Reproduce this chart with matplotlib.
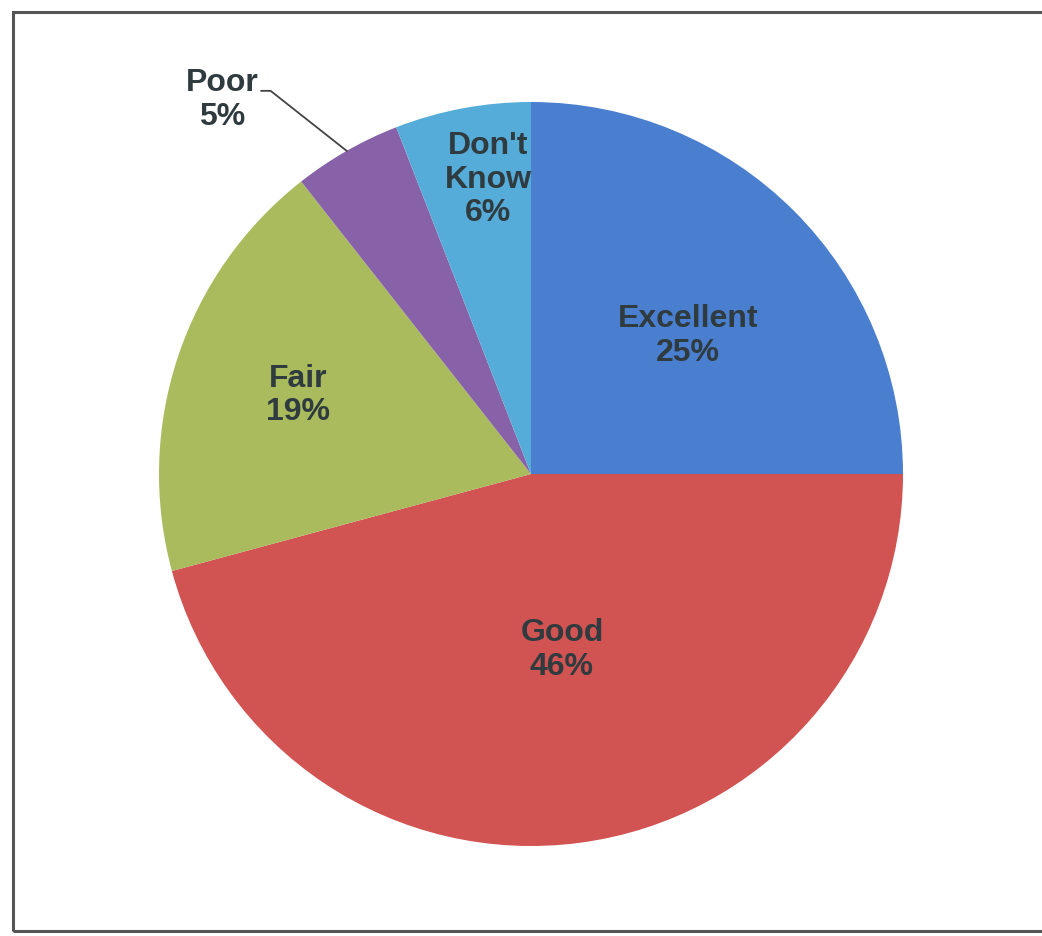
import numpy as np
import matplotlib.pyplot as plt
from matplotlib.patches import Rectangle

# share of answers
categories = ["Excellent", "Good", "Fair", "Poor", "Don't\nKnow"]
shares = [25.0, 45.8, 18.6, 4.7, 5.9]
pct_labels = ["25%", "46%", "19%", "5%", "6%"]
colors = ["#4a7fcf", "#d15352", "#a9bb5c", "#8862a8", "#55acd9"]

text_color = "#2f3b3f"
plt.rcParams['font.family'] = ['Liberation Sans', 'DejaVu Sans']

fig = plt.figure(figsize=(10.42, 9.36), dpi=100)
# pie centre at (531, 474) px, radius 372 px
cx, cy, rad = 531, 474, 372
ax = fig.add_axes([(cx - rad) / 1042, (936 - cy - rad) / 936, 2 * rad / 1042, 2 * rad / 936])

wedges, _ = ax.pie(shares, colors=colors, startangle=90, counterclock=False,
                   radius=1.0, wedgeprops=dict(linewidth=0))
ax.set_xlim(-1, 1)
ax.set_ylim(-1, 1)
ax.set_aspect('equal')
ax.axis('off')

# label distance from centre and angle shift from the slice middle
# (None = outside with a leader line)
label_r = [0.562, 0.480, 0.661, None, 0.799]
label_shift = [-3.7, 2.4, -0.3, 0, -2.3]
for w, cat, pct, r, sh in zip(wedges, categories, pct_labels, label_r, label_shift):
    mid = np.deg2rad((w.theta1 + w.theta2) / 2)
    if r is not None:
        a = mid + np.deg2rad(sh)
        ax.text(r * np.cos(a), r * np.sin(a), cat + "\n" + pct,
                ha='center', va='center', fontsize=23, fontweight='bold',
                color=text_color, linespacing=1.15)
    else:
        ex, ey = np.cos(mid), np.sin(mid)
        ax.plot([ex, -0.70, -0.725], [ey, 1.03, 1.03], color="#444444",
                lw=1.3, clip_on=False)
        ax.text(-0.831, 1.005, cat + "\n" + pct, ha='center', va='center',
                fontsize=23, fontweight='bold', color=text_color,
                linespacing=1.15, clip_on=False)

# scanned chart border (right edge is cut off)
fig.patches.append(Rectangle((13 / 1042, 5 / 936), 1.1, (924 - 5) / 936,
                             transform=fig.transFigure, fill=False,
                             edgecolor="#555555", linewidth=2.2))

fig.savefig("out.png", dpi=100, facecolor="white")
